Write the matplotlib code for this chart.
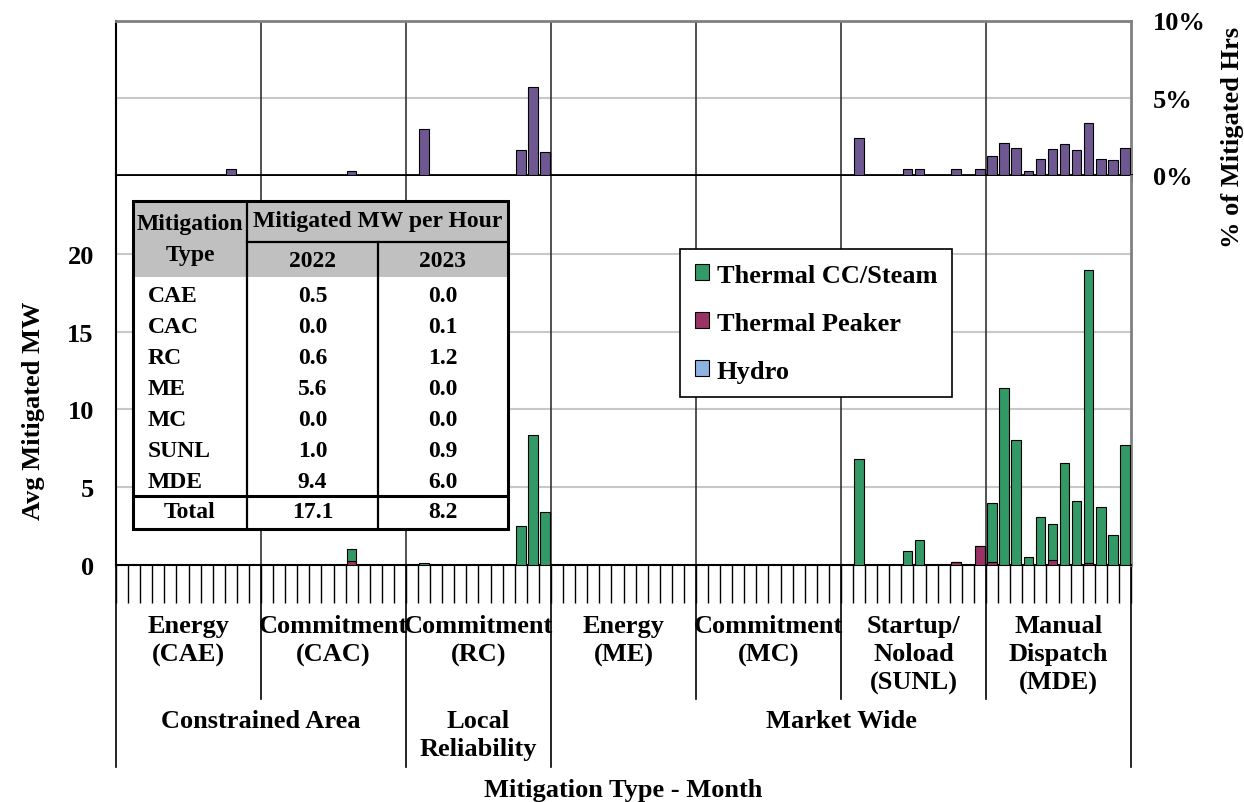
import matplotlib
matplotlib.use('Agg')
import matplotlib.pyplot as plt
from matplotlib.patches import Patch, Rectangle
from matplotlib.transforms import blended_transform_factory
import numpy as np

# categories
groups = ['Energy\n(CAE)', 'Commitment\n(CAC)', 'Commitment\n(RC)', 'Energy\n(ME)',
          'Commitment\n(MC)', 'Startup/\nNoload\n(SUNL)', 'Manual\nDispatch\n(MDE)']
supergroups = ['Constrained Area', 'Local\nReliability', 'Market Wide']
supergroup_sizes = [2, 1, 4]
n_months = 12

# % of mitigated hours (top panel), 12 months per group
pct_hrs = [0, 0, 0, 0, 0, 0, 0, 0, 0, 0.37, 0, 0,
           0, 0, 0, 0, 0, 0, 0, 0.24, 0, 0, 0, 0,
           0, 2.97, 0, 0, 0, 0, 0, 0, 0, 1.6, 5.69, 1.47,
           0, 0, 0, 0, 0, 0, 0, 0, 0, 0, 0, 0,
           0, 0, 0, 0, 0, 0, 0, 0, 0, 0, 0, 0,
           0, 2.37, 0, 0, 0, 0.39, 0.37, 0, 0, 0.37, 0, 0.37,
           1.23, 2.07, 1.72, 0.26, 1.06, 1.66, 1.98, 1.59, 3.34, 1.06, 0.95, 1.72]

# avg mitigated MW (bottom panel)
thermal_cc = [0, 0, 0, 0, 0, 0, 0, 0, 0, 0.03, 0, 0,
              0, 0, 0, 0, 0, 0, 0, 0.75, 0, 0, 0, 0,
              0, 0.13, 0, 0, 0, 0, 0, 0, 0, 2.53, 8.34, 3.39,
              0, 0, 0, 0, 0, 0, 0, 0, 0, 0, 0, 0,
              0, 0, 0, 0, 0, 0, 0, 0, 0, 0, 0, 0,
              0, 6.82, 0, 0, 0, 0.92, 1.61, 0, 0, 0, 0, 0,
              3.82, 11.35, 8.06, 0.49, 3.07, 2.32, 6.56, 4.14, 18.84, 3.75, 1.95, 7.74]
thermal_peaker = [0, 0, 0, 0, 0, 0, 0, 0, 0, 0, 0, 0,
                  0, 0, 0, 0, 0, 0, 0, 0.25, 0, 0, 0, 0,
                  0, 0, 0, 0, 0, 0, 0, 0, 0, 0, 0, 0,
                  0, 0, 0, 0, 0, 0, 0, 0, 0, 0, 0, 0,
                  0, 0, 0, 0, 0, 0, 0, 0, 0, 0, 0, 0,
                  0, 0, 0, 0, 0, 0, 0, 0, 0, 0.17, 0, 1.2,
                  0.17, 0.03, 0, 0, 0, 0.32, 0, 0, 0.15, 0, 0, 0]
hydro = [0] * 84

# inset table
table_types = ['CAE', 'CAC', 'RC', 'ME', 'MC', 'SUNL', 'MDE']
table_2022 = [0.5, 0.0, 0.6, 5.6, 0.0, 1.0, 9.4]
table_2023 = [0.0, 0.1, 1.2, 0.0, 0.0, 0.9, 6.0]

GREEN = '#339966'
MAROON = '#993366'
BLUE = '#8DB3E2'
PURPLE = '#6F5892'
GRID = '#C8C8C8'

plt.rcParams['font.family'] = ['Liberation Serif', 'DejaVu Serif']
plt.rcParams['font.weight'] = 'bold'
plt.rcParams['font.size'] = 19

W, H = 1244, 803
fig = plt.figure(figsize=(W / 100, H / 100), dpi=100)


def fx(px):
    return px / W


def fy(py):
    return 1 - py / H


L, R = 116, 1131
ax_top = fig.add_axes([fx(L), fy(176), fx(R - L), (176 - 21.5) / H])
ax_bot = fig.add_axes([fx(L), fy(566), fx(R - L), (566 - 177) / H])

n = len(groups) * n_months
x = np.arange(n) + 0.5
bw = 0.78

# top panel
ax_top.bar(x, pct_hrs, width=bw, color=PURPLE, edgecolor='black', linewidth=0.8, zorder=3)
ax_top.set_xlim(0, n)
ax_top.set_ylim(0, 10)
ax_top.axhline(5, color=GRID, lw=1.5, zorder=1)
for g in range(1, len(groups)):
    ax_top.axvline(g * n_months, color='#333333', lw=1.2, zorder=2)
ax_top.yaxis.tick_right()
ax_top.set_yticks([0, 5, 10])
ax_top.set_yticklabels(['0%', '5%', '10%'])
ax_top.tick_params(axis='y', length=0, pad=16)
ax_top.set_xticks(np.arange(0, n + 1))
ax_top.set_xticklabels([])
ax_top.tick_params(axis='x', direction='out', length=5, width=1.8)
ax_top.spines['bottom'].set_linewidth(2)
ax_top.spines['left'].set_linewidth(1.5)
for s in ['top', 'right']:
    ax_top.spines[s].set_color('#808080')
    ax_top.spines[s].set_linewidth(2)

# bottom panel, stacked hydro -> peaker -> cc
cc = np.array(thermal_cc)
pk = np.array(thermal_peaker)
hy = np.array(hydro)
ax_bot.bar(x, hy, width=bw, color=BLUE, edgecolor='black', linewidth=0.8, zorder=3)
ax_bot.bar(x, pk, width=bw, bottom=hy, color=MAROON, edgecolor='black', linewidth=0.8, zorder=3)
ax_bot.bar(x, cc, width=bw, bottom=hy + pk, color=GREEN, edgecolor='black', linewidth=0.8, zorder=3)
ax_bot.set_xlim(0, n)
ax_bot.set_ylim(0, 25)
for v in [5, 10, 15, 20]:
    ax_bot.axhline(v, color=GRID, lw=1.5, zorder=1)
for g in range(1, len(groups)):
    ax_bot.axvline(g * n_months, color='#333333', lw=1.2, zorder=2)
ax_bot.set_yticks([0, 5, 10, 15, 20])
ax_bot.tick_params(axis='y', length=0, pad=16)
ax_bot.set_xticks(np.arange(0, n + 1))
ax_bot.set_xticklabels([])
ax_bot.tick_params(axis='x', direction='out', length=27, width=1)
ax_bot.spines['top'].set_visible(False)
ax_bot.spines['bottom'].set_linewidth(1.5)
ax_bot.spines['left'].set_linewidth(1.5)
ax_bot.spines['right'].set_color('#808080')
ax_bot.spines['right'].set_linewidth(2)

# category labels under the axis
trans = blended_transform_factory(ax_bot.transData, fig.transFigure)
for g, name in enumerate(groups):
    ax_bot.text(g * n_months + n_months / 2, fy(615), name, transform=trans,
                ha='center', va='top', linespacing=1.3, fontsize=19)
for b in [1, 4, 5, 6]:
    ax_bot.plot([b * n_months] * 2, [fy(566), fy(700)], transform=trans,
                color='black', lw=1.2, clip_on=False)
start = 0
for name, size in zip(supergroups, supergroup_sizes):
    ax_bot.plot([start * n_months] * 2, [fy(566), fy(768)], transform=trans,
                color='black', lw=1.2, clip_on=False)
    ax_bot.text((start + size / 2) * n_months, fy(710), name, transform=trans,
                ha='center', va='top', linespacing=1.3, fontsize=19)
    start += size
ax_bot.plot([n] * 2, [fy(566), fy(768)], transform=trans, color='black', lw=1.2, clip_on=False)

fig.text(fx(623), fy(791), 'Mitigation Type - Month', ha='center', va='center')
fig.text(fx(34), fy(411), 'Avg Mitigated MW', rotation=90, ha='center', va='center')
fig.text(fx(1232), fy(137), '% of Mitigated Hrs', rotation=90, ha='center', va='center')

# legend
handles = [Patch(facecolor=GREEN, edgecolor='black', lw=0.8, label='Thermal CC/Steam'),
           Patch(facecolor=MAROON, edgecolor='black', lw=0.8, label='Thermal Peaker'),
           Patch(facecolor=BLUE, edgecolor='black', lw=0.8, label='Hydro')]
leg = fig.legend(handles=handles, loc='upper left', bbox_to_anchor=(fx(680), fy(250)),
                 frameon=True, fancybox=False, edgecolor='black', framealpha=1,
                 borderpad=0.55, labelspacing=0.95, handlelength=0.55, handleheight=0.55,
                 handletextpad=0.3, borderaxespad=0, fontsize=19)
leg.get_frame().set_linewidth(1.2)

# inset table
TW, TH = 375, 328
ax_tab = fig.add_axes([fx(133), fy(530), fx(TW), TH / H])
ax_tab.set_zorder(5)
ax_tab.set_xlim(0, TW)
ax_tab.set_ylim(TH, 0)
ax_tab.axis('off')
ax_tab.add_patch(Rectangle((0, 0), TW, TH, facecolor='white', edgecolor='none'))
ax_tab.add_patch(Rectangle((0, 0), TW, 76, facecolor='#C0C0C0', edgecolor='none'))
c1, c2 = 114, 245
ax_tab.plot([c1, c1], [0, TH], color='black', lw=1.6)
ax_tab.plot([c2, c2], [41, TH], color='black', lw=1.6)
ax_tab.plot([c1, TW], [41, 41], color='black', lw=1.6)
ax_tab.plot([0, TW], [295, 295], color='black', lw=2.2)
ax_tab.add_patch(Rectangle((0, 0), TW, TH, fill=False, edgecolor='black', lw=2.2, clip_on=False))

fs = 17
ax_tab.text(c1 / 2, 38, 'Mitigation\nType', ha='center', va='center', fontsize=fs, linespacing=1.65)
ax_tab.text((c1 + TW) / 2, 20, 'Mitigated MW per Hour', ha='center', va='center', fontsize=fs)
ax_tab.text((c1 + c2) / 2, 60, '2022', ha='center', va='center', fontsize=fs)
ax_tab.text((c2 + TW) / 2, 60, '2023', ha='center', va='center', fontsize=fs)
for i, (t, a, b) in enumerate(zip(table_types, table_2022, table_2023)):
    yy = 95 + i * 31
    ax_tab.text(15, yy, t, ha='left', va='center', fontsize=fs)
    ax_tab.text((c1 + c2) / 2, yy, f'{a:.1f}', ha='center', va='center', fontsize=fs)
    ax_tab.text((c2 + TW) / 2, yy, f'{b:.1f}', ha='center', va='center', fontsize=fs)
ax_tab.text(c1 / 2, 311, 'Total', ha='center', va='center', fontsize=fs)
ax_tab.text((c1 + c2) / 2, 311, f'{sum(table_2022):.1f}', ha='center', va='center', fontsize=fs)
ax_tab.text((c2 + TW) / 2, 311, f'{sum(table_2023):.1f}', ha='center', va='center', fontsize=fs)

fig.savefig('out.png', dpi=100)
